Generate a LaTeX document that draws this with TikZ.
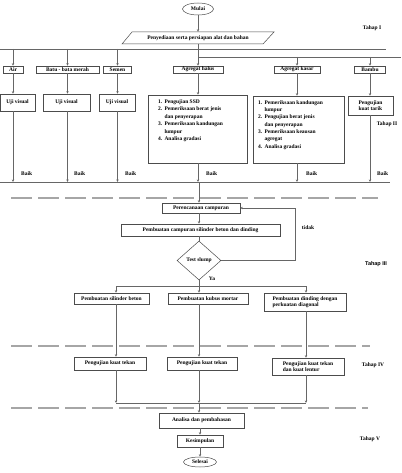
\documentclass[tikz,border=0pt]{standalone}
\usepackage{fontspec}
\setmainfont{Liberation Serif}
\newfontfamily\tahapsans{Liberation Sans}
\usetikzlibrary{shapes.geometric,arrows.meta}
\begin{document}
\begin{tikzpicture}[x=1pt,y=-1pt,
  every node/.style={font=\fontsize{5.5}{6.6}\selectfont\bfseries, inner sep=0pt},
  box/.style={draw=black!70, line width=0.5pt, rectangle, align=center},
  outline/.style={draw=black!70, line width=0.5pt},
  ln/.style={draw=black!60, line width=0.5pt},
  arr/.style={ln, -{Stealth[length=2.6pt,width=2.4pt]}},
  sep/.style={draw=black!35, line width=1.1pt, dash pattern=on 21pt off 6pt},
  lbl/.style={anchor=west},
  term/.style={draw=black!70, line width=0.5pt, ellipse},
]
\useasboundingbox[fill=white] (0,0) rectangle (401,473);

% ---- Tahap I ----
\node[term, minimum width=31pt, minimum height=12pt] (mulai) at (198,9) {Mulai};
\node[minimum width=130pt, minimum height=12pt] (prep) at (198,38) {Penyediaan serta persiapan alat dan bahan};
\draw[outline] (132,32) -- (274,32) -- (263,44) -- (122,44) -- cycle;
\node (t1) at (372,28) {Tahap I};
\draw[arr] (mulai.south) -- (prep.north);

\coordinate (h1l) at (0,49);
\coordinate (h1r) at (386,49);
\coordinate (h2l) at (198,57);
\coordinate (h2r) at (401,57);
\draw[ln] (h1l) -- (h1r);
\draw[ln] (prep.south) -- (h2l);
\draw[ln] (h2l) -- (h2r);

% ---- materials ----
\node[box, minimum width=20pt, minimum height=7pt] (air) at (13,69.5) {Air};
\node[box, minimum width=63pt, minimum height=7pt] (batu) at (67.5,69.5) {Batu - bata merah};
\node[box, minimum width=28pt, minimum height=7pt] (semen) at (117.5,69.5) {Semen};
\node[box, minimum width=50pt, minimum height=7pt] (halus) at (198,69.5) {Agregat halus};
\node[box, minimum width=46pt, minimum height=7pt] (kasar) at (297,69.5) {Agregat kasar};
\node[box, minimum width=31pt, minimum height=7pt] (bambu) at (370,69.5) {Bambu};

\draw[arr] (air |- h1l) -- (air.north);
\draw[arr] (batu |- h1l) -- (batu.north);
\draw[arr] (semen |- h1l) -- (semen.north);
\draw[arr] (halus |- h2l) -- (halus.north);
\draw[arr] (kasar |- h2l) -- (kasar.north);
\draw[arr] (bambu |- h2l) -- (bambu.north);

% ---- tests ----
\node[box, minimum width=35pt, minimum height=17pt] (uv1) at (17.5,102.5) {Uji visual};
\node[box, minimum width=47pt, minimum height=17pt] (uv2) at (66.5,102.5) {Uji visual};
\node[box, minimum width=36pt, minimum height=17pt] (uv3) at (117,102.5) {Uji visual};
\node[box, minimum width=99pt, minimum height=68pt] (halusT) at (197.5,129) {};
\node[anchor=north west, align=left] (halusL) at (158,97.5) {\renewcommand{\arraystretch}{1.15}\begin{tabular}{@{}l@{\hspace{2.2pt}}l@{}}
1. & Pengujian SSD\\
2. & Pemeriksaan berat jenis\\
   & dan penyerapan\\
3. & Pemeriksaan kandungan\\
   & lumpur\\
4. & Analisa gradasi
\end{tabular}};
\node[box, minimum width=91pt, minimum height=67pt] (kasarT) at (298.5,129.5) {};
\node[anchor=north west, align=left] (kasarL) at (258,99) {\renewcommand{\arraystretch}{1.11}\begin{tabular}{@{}l@{\hspace{2.2pt}}l@{}}
1. & Pemeriksaan kandungan\\
   & lumpur\\
2. & Pengujian berat jenis\\
   & dan penyerapan\\
3. & Pemeriksaan keausan\\
   & agregat\\
4. & Analisa gradasi
\end{tabular}};
\node[box, minimum width=45pt, minimum height=19pt, align=left] (bambuT) at (370.5,105.5) {Pengujian\\kuat tarik};
\node (t2) at (387,124) {Tahap II};

\draw[arr] (air.south) -- (air.south |- uv1.north);
\draw[arr] (batu.south) -- (batu.south |- uv2.north);
\draw[arr] (semen.south) -- (semen.south |- uv3.north);
\draw[arr] (halus.south) -- (halus.south |- halusT.north);
\draw[arr] (kasar.south) -- (kasar.south |- kasarT.north);
\draw[arr] (bambu.south) -- (bambu.south |- bambuT.north);

\coordinate (m1l) at (0,182);
\coordinate (m1r) at (390,182);
\draw[ln] (m1l) -- (m1r);
\draw[arr] (air |- uv1.south) -- (air |- m1l);
\draw[arr] (batu |- uv2.south) -- (batu |- m1l);
\draw[arr] (semen |- uv3.south) -- (semen |- m1l);
\draw[arr] (halus |- halusT.south) -- (halus |- m1l);
\draw[arr] (kasar |- kasarT.south) -- (kasar |- m1l);
\draw[arr] (bambu |- bambuT.south) -- (bambu |- m1l);

\node[lbl] (b1) at (21,174) {Baik};
\node[lbl] (b2) at (74,174) {Baik};
\node[lbl] (b3) at (125,174) {Baik};
\node[lbl] (b4) at (206,174) {Baik};
\node[lbl] (b5) at (306,174) {Baik};
\node[lbl] (b6) at (377,174) {Baik};

% ---- separators ----
\coordinate (d1a) at (11,198);
\coordinate (d1b) at (378,198);
\draw[sep] (d1a) -- (d1b);
\coordinate (d2a) at (11,346);
\coordinate (d2b) at (370,346);
\draw[sep] (d2a) -- (d2b);
\coordinate (d3a) at (11,408);
\coordinate (d3b) at (368,408);
\draw[sep] (d3a) -- (d3b);

% ---- Tahap III ----
\coordinate (mc) at (199,182);
\node[box, minimum width=78pt, minimum height=10pt] (renc) at (201,208) {Perencanaan campuran};
\node[box, minimum width=159pt, minimum height=12pt] (camp) at (200.5,230) {Pembuatan campuran silinder beton dan dinding};
\node[draw=black!70, line width=0.5pt, diamond, minimum width=44pt, minimum height=39pt] (slump) at (199,260.5) {Test slump};
\node (tidak) at (308,228) {tidak};
\node (ya) at (212,279) {Ya};
\node[font=\tahapsans\fontsize{5.5}{6.6}\selectfont\bfseries] (t3) at (376,264) {Tahap III};

\draw[arr] (mc) -- (mc |- renc.north);
\draw[arr] (renc.south -| mc) -- (mc |- camp.north);
\draw[ln] (camp.south -| slump) -- (slump.north);
\coordinate (fb) at (295,260.5);
\draw[arr] (slump.east) -- (fb) |- (renc.east);

\coordinate (s1) at (199,286);
\coordinate (s1l) at (116,286);
\coordinate (s1r) at (306,286);
\draw[ln] (slump.south) -- (s1);
\draw[ln] (s1l) -- (s1r);

\node[box, minimum width=75pt, minimum height=11pt] (sil) at (111.5,298.5) {Pembuatan silinder beton};
\node[box, minimum width=80pt, minimum height=11pt] (kub) at (208,298.5) {Pembuatan kubus mortar};
\node[box, minimum width=82pt, minimum height=18pt, align=left] (din) at (305,302) {Pembuatan dinding dengan\\perkuatan diagonal};

\draw[arr] (s1l) -- (s1l |- sil.north);
\draw[arr] (s1) -- (s1 |- kub.north);
\draw[arr] (s1r) -- (s1r |- din.north);

% ---- Tahap IV ----
\node[box, minimum width=72pt, minimum height=13pt] (pk1) at (110,363.5) {Pengujian kuat tekan};
\node[box, minimum width=70pt, minimum height=13pt] (pk2) at (202,363.5) {Pengujian kuat tekan};
\node[box, minimum width=72pt, minimum height=17pt, align=left] (pk3) at (308,366.5) {Pengujian kuat tekan\\dan kuat lentur};
\node (t4) at (373,365) {Tahap IV};

\draw[arr] (s1l |- sil.south) -- (s1l |- pk1.north);
\draw[arr] (s1 |- kub.south) -- (s1 |- pk2.north);
\draw[arr] (s1r |- din.south) -- (s1r |- pk3.north);

\coordinate (m2l) at (116,403);
\coordinate (m2) at (199,403);
\coordinate (m2r) at (306,403);
\draw[ln] (m2l) -- (m2r);
\draw[arr] (m2l |- pk1.south) -- (m2l);
\draw[arr] (m2 |- pk2.south) -- (m2);
\draw[arr] (m2r |- pk3.south) -- (m2r);

% ---- Tahap V ----
\node[box, minimum width=85pt, minimum height=15pt] (anal) at (201.5,420.5) {Analisa dan pembahasan};
\node[box, minimum width=46pt, minimum height=12pt] (kes) at (200,441) {Kesimpulan};
\node[term, minimum width=33pt, minimum height=10pt] (sel) at (200,462) {Selesai};
\node (t5) at (370,439) {Tahap V};

\draw[arr] (m2) -- (m2 |- anal.north);
\draw[arr] (anal.south -| kes) -- (kes.north);
\draw[arr] (kes.south) -- (sel.north);
\end{tikzpicture}
\end{document}
